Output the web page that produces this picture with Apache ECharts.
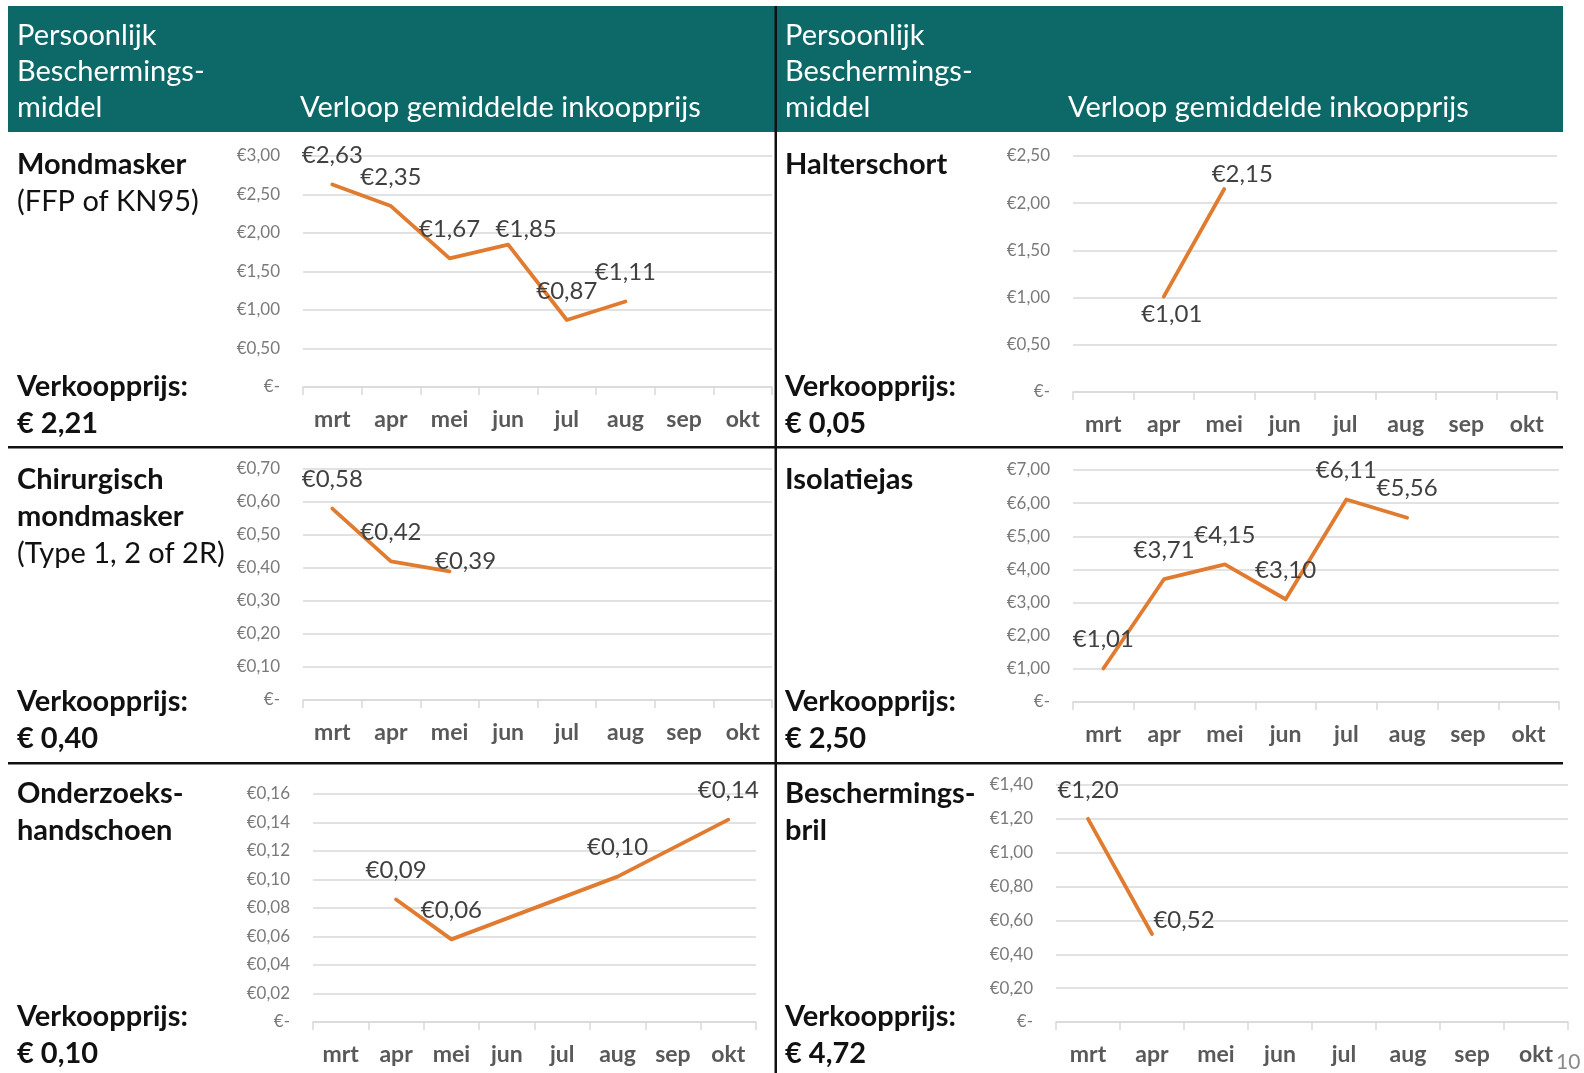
<!DOCTYPE html>
<html>
<head>
<meta charset="utf-8">
<script src="https://cdn.jsdelivr.net/npm/echarts@6/dist/echarts.min.js"></script>
<style>
html,body{margin:0;padding:0;background:#fff;}
#c{width:1584px;height:1073px;}
</style>
</head>
<body>
<div id="c"></div>
<script>
// ---- data ----
const months = ['mrt', 'apr', 'mei', 'jun', 'jul', 'aug', 'sep', 'okt'];
const mondmasker   = [2.63, 2.35, 1.67, 1.85, 0.87, 1.11, null, null];
const chirurgisch  = [0.58, 0.42, 0.39, null, null, null, null, null];
const handschoenen = [null, 0.086, 0.058, null, null, 0.102, null, 0.142];
const halterschort = [null, 1.01, 2.15, null, null, null, null, null];
const isolatiejas  = [1.01, 3.71, 4.15, 3.10, 6.11, 5.56, null, null];
const bril         = [1.20, 0.52, null, null, null, null, null, null];
const yMax  = [3.0, 0.7, 0.16, 2.5, 7.0, 1.4];
const yStep = [0.5, 0.1, 0.02, 0.5, 1.0, 0.2];
const verkoopprijs = ['€ 2,21', '€ 0,40', '€ 0,10', '€ 0,05', '€ 2,50', '€ 4,72'];

// ---- layout / style ----
const FONT = 'Lato, "Open Sans", sans-serif';
const ORANGE = '#E07B30';
const grids = [
  {left: 303, top: 156, width: 469, height: 231},
  {left: 303, top: 469, width: 469, height: 231},
  {left: 313, top: 794, width: 443, height: 228},
  {left: 1073, top: 156, width: 484, height: 236},
  {left: 1073, top: 470, width: 486, height: 232},
  {left: 1056, top: 785, width: 512, height: 237}
];
const seriesData = [mondmasker, chirurgisch, handschoenen, halterschort, isolatiejas, bril];
// label offsets (style only), keyed by panel then category index
const labelOffsets = [
  {3: [18, 14]},
  {2: [16, 19]},
  {},
  {1: [8, 47], 2: [18, 14]},
  {},
  {1: [32, 15]}
];

function euro(v) {
  if (v === 0) return '€-';
  return '€' + v.toFixed(2).replace('.', ',');
}

const xAxes = [], yAxes = [], series = [];
grids.forEach((g, i) => {
  xAxes.push({
    type: 'category', gridIndex: i, data: months, boundaryGap: true,
    axisLine: {lineStyle: {color: '#d9d9d9', width: 1.5}},
    axisTick: {show: true, length: 8, interval: 0, lineStyle: {color: '#d9d9d9', width: 1.5}},
    axisLabel: {interval: 0, margin: 21, color: '#595959', fontFamily: FONT, fontWeight: 'bold', fontSize: 23},
    splitLine: {show: false}
  });
  yAxes.push({
    type: 'value', gridIndex: i, min: 0, max: yMax[i], interval: yStep[i],
    axisLine: {show: false}, axisTick: {show: false},
    axisLabel: {margin: 23, color: '#7a7a7a', fontFamily: FONT, fontSize: 17, formatter: euro},
    splitLine: {lineStyle: {color: '#d9d9d9', width: 1.5}}
  });
  const offs = labelOffsets[i];
  series.push({
    type: 'line', xAxisIndex: i, yAxisIndex: i,
    data: seriesData[i].map((v, k) => offs[k] ? {value: v, label: {offset: offs[k]}} : v),
    connectNulls: true,
    symbol: 'circle', symbolSize: 0.1,
    itemStyle: {color: ORANGE},
    lineStyle: {color: ORANGE, width: 3.8, cap: 'round', join: 'round'},
    label: {
      show: true, position: 'top', distance: 17,
      color: '#404040', fontFamily: FONT, fontSize: 24,
      formatter: p => (p.value == null ? '' : euro(Number(p.value)))
    },
    emphasis: {disabled: true},
    animation: false
  });
});

// ---- static text / frame ----
function txt(x, y, text, opts) {
  opts = opts || {};
  return {
    type: 'text', x: x, y: y, z: 10,
    style: {
      text: text, fill: opts.fill || '#111', fontFamily: FONT,
      fontSize: opts.size || 29, fontWeight: opts.bold ? 'bold' : 'normal',
      align: opts.align || 'left', verticalAlign: 'middle'
    }
  };
}
const graphics = [];
graphics.push({type: 'rect', z: 1, shape: {x: 8, y: 6, width: 1555, height: 126}, style: {fill: '#0c6968'}});
[8, 776].forEach(x0 => {
  graphics.push(txt(x0 + 9, 36, 'Persoonlijk', {fill: '#fff', size: 29}));
  graphics.push(txt(x0 + 9, 72, 'Beschermings-', {fill: '#fff', size: 29}));
  graphics.push(txt(x0 + 9, 108, 'middel', {fill: '#fff', size: 29}));
});
graphics.push(txt(300, 108, 'Verloop gemiddelde inkoopprijs', {fill: '#fff', size: 29}));
graphics.push(txt(1068, 108, 'Verloop gemiddelde inkoopprijs', {fill: '#fff', size: 29}));

const names = [
  [['Mondmasker', true], ['(FFP of KN95)', false]],
  [['Chirurgisch', true], ['mondmasker', true], ['(Type 1, 2 of 2R)', false]],
  [['Onderzoeks-', true], ['handschoen', true]],
  [['Halterschort', true]],
  [['Isolatiejas', true]],
  [['Beschermings-', true], ['bril', true]]
];
const rowTop = [165, 480, 794];
const rowVk = [387, 702, 1017];
names.forEach((lines, i) => {
  const x = i < 3 ? 17 : 785;
  const r = i % 3;
  lines.forEach((l, j) => graphics.push(txt(x, rowTop[r] + j * 37, l[0], {bold: l[1]})));
  graphics.push(txt(x, rowVk[r], 'Verkoopprijs:', {bold: true}));
  graphics.push(txt(x, rowVk[r] + 37, verkoopprijs[i], {bold: true}));
});

// divider lines
graphics.push({type: 'rect', z: 20, shape: {x: 8, y: 446, width: 1555, height: 2.5}, style: {fill: '#111'}});
graphics.push({type: 'rect', z: 20, shape: {x: 8, y: 762, width: 1555, height: 2.5}, style: {fill: '#111'}});
graphics.push({type: 'rect', z: 20, shape: {x: 774.5, y: 6, width: 2.5, height: 1067}, style: {fill: '#111'}});
// page number
graphics.push(txt(1556, 1062, '10', {size: 21, fill: '#8a8a8a'}));

const chart = echarts.init(document.getElementById('c'), null, {renderer: 'canvas'});
chart.setOption({
  animation: false,
  grid: grids,
  xAxis: xAxes,
  yAxis: yAxes,
  series: series,
  graphic: graphics
});
</script>
</body>
</html>
